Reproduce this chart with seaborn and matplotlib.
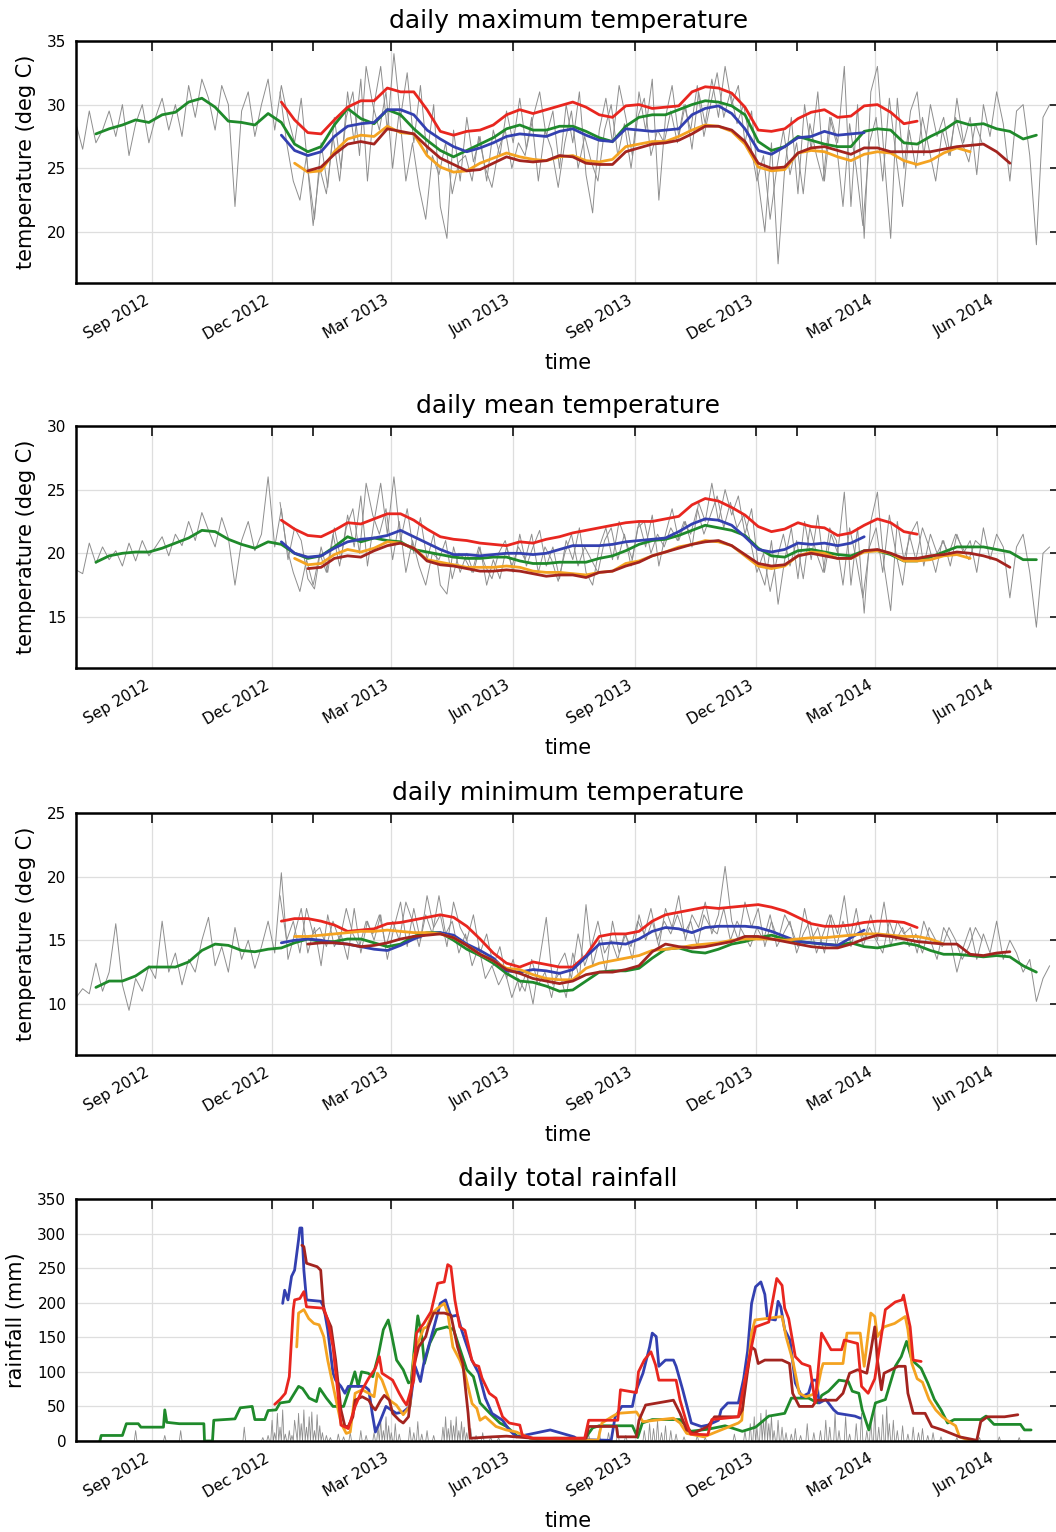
import numpy as np
import pandas as pd
import matplotlib
matplotlib.use("Agg")
import matplotlib.pyplot as plt
import matplotlib.dates as mdates
from matplotlib.ticker import MultipleLocator
import seaborn as sns

# ---------------------------------------------------------------- data
# all x-values are day offsets from BASE_DATE
BASE_DATE = "2012-09-01"
X_START, X_END = "2012-07-06", "2014-07-19"

SMOOTH_STEP = 10      # smoothed (running-mean) curves sampled every 10 days
GRAY_STEP = 5         # daily station traces sampled every 5 days
GRAY_A_START = -57
GRAY_B_START = 97

# ---- daily maximum temperature
TMAX_GRAY_A = [28.5, 26.5, 29.5, 27, 28, 29.5, 27.5, 30, 26, 28.5, 30, 27,
               29, 30.5, 28, 30, 27.5, 31.5, 29, 32, 30.5, 28, 31.5, 30,
               22, 29.5, 31, 27.5, 30, 32, 28, 31.5, 29, 27, 30.5, 25,
               21, 27, 23.5, 29, 25, 31, 27, 32, 24, 30, 33, 28,
               34, 29, 32.5, 27, 31.5, 26, 30, 22, 19.5, 28, 24, 29,
               25.5, 27.5, 24, 28, 26, 29.5, 27, 30.5, 26.5, 29, 31, 27.5,
               29.5, 25, 30, 27, 31, 24.5, 21.5, 28, 30.5, 27, 31.5, 29,
               26, 31, 28, 32, 22.5, 29, 31.5, 27.5, 30, 26.5, 31, 28.5,
               32, 29, 33, 30, 31.5, 27, 29.5, 24, 20, 27, 17.5, 25,
               29, 23, 30, 26.5, 31, 24, 29, 27, 33, 22, 30, 19.5,
               31, 33, 26, 19.5, 30.5, 25, 29.5, 31, 26, 30, 27.5, 29,
               26, 30.5, 27, 29, 24.5, 30, 27.5, 31, 28.5, 24, 29.5, 30, 26, 19, 29, 30]
TMAX_GRAY_B = [31, 27, 24, 22.5, 26, 20.5, 25, 23, 27.5, 24, 29, 31,
               26, 33, 30, 28, 31, 25, 29.5, 24, 27, 23.5, 21, 26,
               24.5, 27, 23, 25.5, 26, 24, 27.5, 25, 23.5, 26.5, 28, 25,
               27, 26, 29, 24, 28, 26.5, 23.5, 27, 29.5, 25, 27.5, 25.5,
               24, 28, 30, 26, 28.5, 25, 29, 30.5, 26, 28, 27, 29.5,
               27, 30, 28, 31.5, 27.5, 30, 32.5, 29, 31, 28.5, 30, 27,
               24, 26, 21, 25, 28, 24.5, 27, 23, 28.5, 26, 24, 29,
               27, 22, 28.5, 25, 20.5, 27, 29, 24, 30.5, 26, 22, 28,
               25, 29, 26.5, 24, 28, 26, 29, 27, 25.5, 28.5, 27]
TMAX_GREEN_START = -42
TMAX_GREEN = [27.7, 28.1, 28.4, 28.8, 28.6, 29.2, 29.4, 30.2, 30.5, 29.8, 28.7, 28.6,
              28.4, 29.3, 28.6, 26.9, 26.3, 26.7, 28.4, 29.7, 28.9, 28.5, 29.6, 29.2,
              28.1, 27.2, 26.4, 25.9, 26.4, 26.9, 27.4, 28.1, 28.4,
              28.0, 28.0, 28.3, 28.3, 27.9, 27.4, 27.1, 28.3, 29.0, 29.2, 29.2, 29.6,
              30.0, 30.3, 30.2, 29.9, 29.2, 27.1, 26.4, 26.7, 27.5, 27.2, 26.9, 26.7,
              26.7, 27.9, 28.1, 28.0, 27.0, 26.9, 27.5, 28.0, 28.7, 28.4, 28.5, 28.1,
              27.9, 27.3, 27.6]
TMAX_RED_START = 98
TMAX_RED = [30.2, 28.8, 27.8, 27.7, 28.8, 29.8, 30.3, 30.3, 31.3, 31.0, 31.0, 29.6,
            27.9, 27.6, 27.9, 28.0, 28.4, 29.2, 29.6, 29.3, 29.6, 29.9, 30.2, 29.8,
            29.2, 29.0, 29.9, 30.0, 29.7, 29.8, 29.9, 31.0, 31.4, 31.3, 30.9, 29.8,
            28.0, 27.9, 28.1, 28.9, 29.4, 29.6, 29.0, 29.1, 29.9, 30.0, 29.4, 28.5, 28.7]
TMAX_BLUE_START = 98
TMAX_BLUE = [27.6, 26.4, 26.0, 26.3, 27.5, 28.3, 28.5, 28.6, 29.6, 29.6, 29.2, 28.0,
             27.3, 26.7, 26.3, 26.6, 27.0, 27.5, 27.7, 27.6, 27.5, 27.9, 28.1, 27.6,
             27.2, 27.1, 28.1, 28.0, 27.9, 28.0, 28.1, 29.2, 29.7, 29.9, 29.3, 28.1,
             26.4, 26.1, 26.7, 27.4, 27.5, 27.9, 27.6, 27.7, 27.8]
TMAX_ORANGE_START = 108
TMAX_ORANGE = [25.4, 24.7, 24.8, 26.3, 27.3, 27.6, 27.5, 28.3, 27.8, 27.7, 26.0, 25.1,
               24.7, 24.8, 25.4, 25.8, 26.2, 25.9, 25.7, 25.6, 25.9, 26.0, 25.6, 25.5,
               25.7, 26.7, 26.9, 27.1, 27.1, 27.5, 28.0, 28.4, 28.3, 27.9, 26.9, 25.1,
               24.8, 24.9, 26.2, 26.4, 26.3, 25.9, 25.6, 26.1, 26.3, 26.2, 25.6, 25.3,
               25.6, 26.2, 26.6, 26.3]
TMAX_DARKRED_START = 118
TMAX_DARKRED = [24.8, 25.1, 26.1, 26.9, 27.1, 26.9, 28.1, 27.9, 27.7, 26.7, 25.8, 25.3,
                24.8, 24.9, 25.4, 25.9, 25.6, 25.5, 25.6, 26.0, 25.9, 25.4, 25.3, 25.3,
                26.3, 26.6, 26.9, 27.0, 27.2, 27.7, 28.3, 28.3, 28.0, 27.1, 25.4, 25.0,
                25.1, 26.2, 26.6, 26.7, 26.4, 26.1, 26.6, 26.6, 26.3, 26.3, 26.3, 26.3,
                26.5, 26.7, 26.8, 26.9, 26.3, 25.4]

# ---- daily mean temperature
TMEAN_GRAY_A = [18.7, 18.4, 20.8, 19.2, 20.5, 19.5, 20.2, 19, 20.8, 19.4, 21, 19.8,
                20.5, 21.3, 19.8, 21.5, 20.6, 22.5, 21, 23.2, 21.8, 20.5, 22.8, 21.2,
                17.5, 21, 22.5, 20.2, 21.5, 26, 20.5, 23.5, 19.5, 22, 21, 18,
                17.2, 20.5, 18.5, 22, 19.5, 23, 20.5, 24.5, 19, 22.5, 25.5, 21.5,
                26, 21, 23.5, 20, 22.8, 19.5, 21.5, 17.5, 16.8, 20.5, 18.5, 20,
                18.5, 20.5, 17.5, 19.5, 18, 20.5, 18.5, 21.5, 19, 20.5, 21.8, 19,
                20.5, 18, 21, 19.5, 22, 18.5, 17.5, 20.5, 22, 19.5, 22.5, 21,
                19.5, 22.5, 20.5, 23, 19, 21.5, 23.5, 21, 22.5, 20.5, 24, 22.5,
                25.5, 22.5, 25, 23, 24.5, 21.5, 23.5, 19, 17.5, 21, 16, 19.5,
                22, 18, 22.5, 19.5, 23, 18.5, 21.5, 20, 24.8, 17.5, 22, 15.3,
                22.5, 24.8, 19, 15.5, 22.5, 19.5, 21.5, 22.5, 19, 21.5, 20, 21,
                19, 21.5, 20, 21, 18.5, 22, 19.5, 21.5, 20.5, 16.5, 20.5, 21.5, 18.5, 14.2, 20, 20.5]
TMEAN_GRAY_B = [24, 20.5, 18.5, 17, 19.5, 17.5, 20, 18.5, 21.5, 19, 22, 23.5,
                20, 25.5, 23, 21.5, 23.5, 19.5, 22.5, 18.5, 21, 19, 17.5, 20,
                19.5, 21, 18, 20, 19.5, 18.5, 20.5, 19, 18, 20, 21, 19,
                20.5, 19.5, 21.5, 18.5, 20.5, 19.5, 17.8, 20, 21.5, 19, 20.5, 19.5,
                18.5, 21, 22, 19.5, 21.5, 19, 22, 22.5, 20, 21.5, 20.5, 22,
                21, 22.5, 21.5, 23.5, 21.5, 23, 24.5, 22, 24, 22, 23, 21,
                18.5, 20, 17, 19.5, 21.5, 19, 21, 18, 22, 20, 18.5, 22,
                21, 17.5, 22, 19.5, 16.5, 20.5, 22, 18.5, 23, 20, 17.5, 21.5,
                19.5, 22, 20.5, 18.5, 21, 20, 21.5, 20.5, 19.5, 21, 20.5]
TMEAN_GREEN_START = -42
TMEAN_GREEN = [19.3, 19.8, 20.0, 20.1, 20.1, 20.4, 20.8, 21.2, 21.8, 21.7, 21.1, 20.7,
               20.4, 20.9, 20.7, 20.0, 19.6, 19.8, 20.5, 21.3, 20.9, 21.2, 21.0, 20.9,
               20.3, 20.1, 19.9, 19.7, 19.6, 19.6, 19.7, 19.7, 19.4,
               19.2, 19.2, 19.3, 19.3, 19.3, 19.6, 19.8, 20.2, 20.7, 21.0, 21.1, 21.4,
               21.8, 22.2, 22.0, 21.8, 21.4, 20.4, 19.8, 19.7, 20.2, 20.3, 20.1, 19.9,
               19.8, 20.2, 20.2, 19.9, 19.4, 19.4, 19.7, 20.1, 20.5, 20.5, 20.5, 20.3,
               20.1, 19.5, 19.5]
TMEAN_RED_START = 98
TMEAN_RED = [22.6, 21.9, 21.4, 21.3, 21.8, 22.4, 22.3, 22.7, 23.1, 23.1, 22.6, 21.9,
             21.3, 21.1, 21.0, 20.8, 20.7, 20.6, 20.9,
             20.8, 21.1, 21.3, 21.6, 21.8, 22.0, 22.2, 22.4, 22.5, 22.5, 22.7, 22.9,
             23.8, 24.3, 24.1, 23.6, 23.0, 22.1, 21.7, 21.9, 22.4, 22.1, 22.0, 21.4,
             21.6, 22.2, 22.7, 22.4, 21.7, 21.5]
TMEAN_BLUE_START = 98
TMEAN_BLUE = [20.9, 20.0, 19.7, 19.8, 20.4, 20.9, 21.1, 21.2, 21.4, 21.8, 21.3, 20.8,
              20.3, 19.9, 19.9, 19.8, 19.9, 20.0, 20.0,
              19.9, 20.0, 20.3, 20.6, 20.6, 20.6, 20.7, 20.9, 21.0, 21.1, 21.2, 21.7,
              22.3, 22.7, 22.6, 22.2, 21.3, 20.3, 20.1, 20.3, 20.8, 20.7, 20.8, 20.6,
              20.8, 21.3]
TMEAN_ORANGE_START = 108
TMEAN_ORANGE = [19.6, 19.1, 19.2, 19.9, 20.3, 20.1, 20.4, 20.9, 20.8, 20.4, 19.5, 19.3,
                19.1, 18.9, 18.9, 18.9, 19.0, 18.9,
                18.6, 18.5, 18.5, 18.4, 18.3, 18.5, 18.6, 19.2, 19.4, 19.8, 20.1, 20.5,
                20.7, 21.0, 20.9, 20.6, 19.8, 19.0, 18.8, 19.0, 19.8, 20.1, 20.0, 19.6,
                19.6, 20.1, 20.2, 20.0, 19.4, 19.4, 19.5, 19.8, 19.9, 19.6]
TMEAN_DARKRED_START = 118
TMEAN_DARKRED = [18.8, 18.9, 19.6, 19.8, 19.7, 20.2, 20.6, 20.8, 20.4, 19.4, 19.1, 19.0,
                 18.8, 18.6, 18.6, 18.7, 18.6,
                 18.4, 18.2, 18.3, 18.3, 18.1, 18.5, 18.6, 19.0, 19.3, 19.8, 20.1, 20.4,
                 20.7, 20.9, 21.0, 20.6, 19.9, 19.2, 19.0, 19.1, 19.8, 20.0, 19.8, 19.6,
                 19.6, 20.2, 20.3, 20.0, 19.6, 19.6, 19.8, 19.9, 20.1, 20.0, 19.8, 19.5, 18.9]

# ---- daily minimum temperature
TMIN_GRAY_A = [10.5, 11.2, 10.8, 13.2, 11, 12.5, 16.3, 11.5, 9.5, 12, 11, 13,
               12, 16.5, 12.5, 14, 11.5, 13.5, 12.5, 15, 16.8, 13, 14.5, 12.5,
               16, 13.5, 15, 12.8, 14.5, 16.5, 14, 20.3, 13.5, 15.5, 17.5, 14,
               16, 13, 17, 14.5, 15.5, 13.5, 17.5, 14, 16.5, 15, 17, 13.5,
               16, 18, 14.5, 17.5, 15, 18.5, 16, 17, 14.5, 18, 16, 15,
               17, 14, 15.5, 13, 14.5, 12, 13.5, 11, 12.5, 10, 13.5, 16.8,
               11.5, 12.5, 10.5, 14, 12, 17.8, 13, 15, 12.5, 16.5, 14, 15.5,
               13.5, 17, 15, 16.5, 14.5, 17.5, 16, 18.5, 15, 17, 16, 18,
               15.5, 17, 20.8, 16.5, 15, 18, 16, 17.5, 14.5, 16.5, 15, 17,
               16, 14.5, 17.5, 15, 16, 14, 17, 15.5, 18.5, 14.5, 16.5, 15,
               17, 15, 18, 14.5, 16.5, 15.5, 16, 14, 16.5, 15, 13.5, 16,
               15, 12.5, 14.5, 16, 13.5, 15.5, 14, 16.5, 13.5, 15, 14, 12.5, 13.5, 10.2, 12, 13]
TMIN_GRAY_B = [18.5, 15, 16.5, 14, 17.5, 15.5, 16, 14.5, 16.5, 15, 17.5, 15.5,
               14.5, 16.5, 15.5, 17, 14.5, 16.5, 15, 18, 16.5, 14.5, 17, 15.5,
               18.5, 15.5, 16.5, 14, 15.5, 13, 14.5, 12, 13, 11.5, 12.5, 10.5,
               12, 11, 13.5, 11.5, 12.5, 10.5, 13, 14, 12, 15.5, 13, 14.5,
               16.5, 14, 15, 13.5, 15.5, 14.5, 16.5, 15.5, 17.5, 15, 16.5, 15.5,
               17, 15.5, 16.5, 14.5, 17, 16, 15.5, 17.5, 15, 16.5, 15.5, 14.5,
               16, 15, 17, 14.5, 15.5, 16.5, 14, 15.5, 16.5, 14, 15.5, 17,
               14.5, 16.5, 15, 17.5, 14.5, 16, 15, 14, 16.5, 15, 16, 14.5,
               15.5, 14, 16, 15, 14.5, 16, 15, 13.5, 14.5, 16, 15]
TMIN_GREEN_START = -42
TMIN_GREEN = [11.3, 11.8, 11.8, 12.2, 12.9, 12.9, 12.9, 13.3, 14.2, 14.7, 14.6, 14.2,
              14.1, 14.3, 14.4, 14.8, 15.1, 14.9, 14.9, 15.1, 15.1, 14.8, 14.5, 14.7,
              15.3, 15.6, 15.6, 15.0, 14.3, 13.8, 13.2, 12.4, 11.8,
              11.7, 11.4, 11.0, 11.1, 11.8, 12.5, 12.6, 12.6, 12.8, 13.6, 14.3, 14.4,
              14.1, 14.0, 14.3, 14.7, 14.9, 15.2, 15.4, 15.1, 14.9, 14.8, 14.7, 14.6,
              14.8, 14.5, 14.4, 14.6, 14.8, 14.6, 14.2, 13.9, 13.9, 13.8, 13.7, 13.8,
              13.7, 13.0, 12.5]
TMIN_RED_START = 98
TMIN_RED = [16.5, 16.7, 16.7, 16.5, 16.2, 15.7, 15.8, 15.9, 16.3, 16.4, 16.6, 16.8,
            17.0, 16.8, 16.1, 15.1, 14.0, 13.2, 12.9,
            13.3, 13.1, 12.9, 12.9, 13.8, 15.3, 15.5, 15.5, 15.7, 16.5, 17.0, 17.2,
            17.4, 17.6, 17.5, 17.6, 17.7, 17.8, 17.6, 17.3, 16.8, 16.3, 16.1, 16.1,
            16.2, 16.4, 16.5, 16.5, 16.4, 16.0]
TMIN_BLUE_START = 98
TMIN_BLUE = [14.8, 15.0, 15.1, 15.0, 14.8, 14.7, 14.5, 14.3, 14.2, 14.6, 15.1, 15.5,
             15.6, 15.4, 14.7, 14.2, 13.6, 12.6, 12.5,
             12.7, 12.6, 12.4, 12.7, 13.7, 14.7, 14.8, 14.7, 15.1, 15.7, 16.0, 15.9,
             15.6, 16.0, 16.1, 16.1, 16.1, 16.0, 15.7, 15.3, 14.9, 14.8, 14.7, 14.6,
             15.2, 15.8]
TMIN_ORANGE_START = 108
TMIN_ORANGE = [15.3, 15.3, 15.4, 15.5, 15.6, 15.7, 15.7, 15.8, 15.7, 15.6, 15.6, 15.5,
               15.2, 14.6, 13.9, 13.4, 12.8, 12.7,
               12.3, 12.0, 11.9, 11.9, 12.8, 13.2, 13.4, 13.6, 13.8, 14.2, 14.3, 14.4,
               14.6, 14.7, 14.8, 15.0, 15.1, 15.1, 15.1, 15.0, 15.1, 15.2, 15.2, 15.3,
               15.4, 15.5, 15.5, 15.4, 15.3, 15.3, 15.1, 14.7]
TMIN_DARKRED_START = 118
TMIN_DARKRED = [14.7, 14.8, 14.8, 14.7, 14.5, 14.6, 14.8, 15.1, 15.3, 15.4, 15.5, 15.2,
                14.6, 13.9, 13.4, 12.7, 12.4,
                12.0, 11.8, 11.6, 11.8, 12.3, 12.5, 12.5, 12.7, 13.0, 14.1, 14.7, 14.5,
                14.4, 14.5, 14.7, 14.9, 15.3, 15.3, 15.1, 14.9, 14.7, 14.5, 14.4, 14.4,
                14.7, 15.1, 15.4, 15.3, 15.1, 14.9, 14.8, 14.7, 14.7, 13.9, 13.8, 14.0, 14.1]

# ---- daily total rainfall (30-day running totals per station, day offset / mm)
RAIN_GREEN_DAY = [-39, -38, -22, -19, -10, -8, 9, 10, 11.5, 21, 39.5, 40, 46, 47, 63, 67, 76, 78,
                  85.5, 88, 94, 97, 104, 111, 114, 119, 124.5, 127, 132, 137, 145, 151, 153.5,
                  156, 158.5, 163.5, 167, 171, 175, 178.7, 181, 185, 190, 194, 196, 199, 201,
                  204, 206, 210, 215, 223, 228, 233, 238, 243, 248, 255.5, 263, 268, 276, 281,
                  286, 291, 305, 327, 333, 338, 363, 367, 370.5, 378, 399, 404, 407, 420, 433,
                  446, 456, 466, 478, 483, 496, 503, 506, 511, 519, 526, 529, 534, 536.5, 541.5,
                  546.5, 554, 561.5, 566, 570, 574, 581, 586, 591, 596, 601, 606, 626, 630, 636,
                  656, 659, 664]
RAIN_GREEN_MM = [0, 8, 8, 25, 25, 20, 20, 45, 27, 25, 25, 0, 0, 30, 32, 48, 50, 31,
                 31, 44, 45, 55, 57, 79, 76, 62, 57, 76, 62, 50, 50, 84, 100,
                 79, 100, 98, 93, 122, 161, 175, 156, 117, 103, 84, 86, 146, 181,
                 151, 112, 141, 161, 165, 161, 132, 103, 93, 55, 40, 26, 21, 7, 8,
                 4, 3, 4, 3, 19, 22, 22, 5, 26, 31, 31, 21, 14, 17, 22,
                 14, 20, 36, 40, 62, 62, 55, 66, 72, 88, 86, 72, 69, 45, 16,
                 55, 60, 108, 122, 144, 117, 105, 84, 60, 45, 26, 31, 31, 36, 24,
                 24, 16, 16]
RAIN_RED_DAY = [93, 97, 101, 104, 107, 108, 112, 115, 117, 130, 133, 137, 140.7, 143, 148.5,
                153.7, 159, 164, 169, 172, 174, 182, 187, 190, 192.5, 198, 200, 205.5, 211,
                216, 221, 223.6, 226, 229, 232.7, 236.6, 241.8, 244, 247, 249.5, 255, 260,
                265, 270, 278, 280, 288, 327, 330, 352, 354, 366, 367.6, 372, 377, 380.5,
                383, 396, 399, 404, 407, 420, 423, 443, 446, 453, 456, 466, 472, 476, 478,
                481, 486, 491, 497, 501, 505.8, 513, 521, 523, 533, 536, 541, 546, 554,
                561.5, 566.5, 567.7, 570, 572.7, 575, 581]
RAIN_RED_MM = [53, 60, 69, 93, 190, 204, 206, 216, 194, 192, 175, 136, 69, 23, 18,
               50, 74, 91, 105, 122, 98, 88, 69, 59, 52, 88, 156, 170, 187,
               228, 230, 255, 252, 204, 165, 160, 117, 110, 108, 91, 69, 62,
               35, 26, 23, 8, 4, 4, 30, 30, 74, 70, 100, 117, 129, 110,
               88, 88, 59, 26, 10, 9, 31, 35, 69, 137, 165, 172, 235, 225, 192,
               177, 122, 112, 108, 55, 156, 132, 132, 146, 141, 79, 69, 90, 190,
               201, 204, 211, 189, 165, 117, 115]
RAIN_BLUE_DAY = [99, 100.5, 103, 105.7, 108, 111, 112, 113.5, 115, 117, 127.7, 130, 133, 137,
                 139, 143, 146, 148.5, 161, 164, 166.6, 169, 172, 177, 184.8, 190, 195, 199,
                 203, 205.5, 209, 213, 218, 222, 226, 231, 234, 236.6, 241.8, 247, 252, 257,
                 265, 270, 275.5, 286, 301, 319, 322, 347, 350, 355, 363, 365, 371, 376, 378,
                 381, 383, 388, 394, 396, 401, 407.5, 415, 420, 428, 430, 435, 443, 447, 450,
                 453, 456, 460, 463, 465, 471, 473, 475, 478, 482, 486, 491, 496, 499, 502,
                 504, 509, 515, 518, 531, 535]
RAIN_BLUE_MM = [199, 218, 204, 238, 247, 291, 308, 308, 247, 204, 202, 194, 161, 98,
                88, 79, 69, 79, 79, 74, 40, 13, 26, 50, 40, 42, 50, 108,
                86, 112, 136, 163, 199, 204, 180, 182, 161, 146, 117, 98, 62, 40,
                30, 16, 6, 10, 16, 6, 2, 1, 35, 50, 50, 69, 98, 136, 156,
                151, 108, 117, 117, 108, 74, 26, 21, 23, 30, 45, 55, 55, 90, 130,
                199, 223, 230, 212, 177, 175, 202, 194, 161, 146, 84, 64, 69, 88, 88,
                55, 60, 45, 40, 36, 33]
RAIN_ORANGE_DAY = [109.6, 111, 115, 118.7, 122.6, 126.5, 130, 133, 139, 143, 147, 150, 153.7,
                   159, 164, 168, 170.5, 174, 179.6, 184.8, 190, 195, 198, 201.6, 205.5, 208,
                   212, 216, 221, 223.6, 227.5, 232.7, 236.6, 242, 245.6, 248, 252, 260, 267.7,
                   275.5, 286, 337, 340, 347.5, 352, 366, 371, 394, 399, 404, 417, 430, 443,
                   445.6, 448, 450.5, 453, 455.6, 476, 479, 484, 489, 494, 502, 505.6, 507,
                   522, 525, 535, 538, 543, 546, 548, 553, 561, 569, 571, 574, 578, 582, 587,
                   592, 597, 602, 607, 610, 617, 623]
RAIN_ORANGE_MM = [136, 185, 190, 177, 170, 168, 151, 117, 62, 26, 11, 13, 69,
                  74, 69, 64, 98, 88, 59, 52, 38, 50, 122, 144, 163, 165,
                  185, 192, 199, 185, 136, 117, 98, 54, 47, 30, 35, 21, 16,
                  13, 4, 1, 26, 35, 40, 42, 28, 33, 26, 11, 6, 16, 26,
                  30, 88, 108, 156, 175, 180, 151, 117, 69, 64, 69, 103, 112,
                  112, 156, 156, 108, 185, 180, 151, 165, 170, 180, 161, 112, 90, 85, 60,
                  45, 35, 28, 22, 6, 1, 0]
RAIN_DARKRED_DAY = [113.5, 115, 117, 125, 127.7, 130, 135.5, 139, 143, 146, 148.5, 152, 153.7,
                    159, 164, 166.6, 169, 173, 175.7, 179.6, 182, 187, 190, 194, 198, 201.6,
                    207, 209, 213, 221, 226, 231, 235, 239, 240.5, 257, 268, 288, 328, 330,
                    351, 352, 366, 368, 373, 394, 399, 404, 409, 420, 425, 443, 446, 450.5,
                    453, 455.6, 458, 463, 476, 481.6, 484, 489, 499, 502, 517, 522, 527, 533,
                    540, 543, 546, 548, 551, 553, 563.6, 569, 571, 575, 584, 589, 597, 610,
                    623, 626, 631, 644, 654]
RAIN_DARKRED_MM = [283, 281, 257, 252, 247, 189, 165, 117, 45, 21, 21, 35, 59,
                   64, 59, 50, 45, 59, 66, 59, 40, 30, 26, 35, 108, 136,
                   151, 165, 185, 185, 182, 136, 112, 40, 4, 6, 7, 4, 4, 21,
                   21, 6, 6, 30, 52, 59, 40, 16, 11, 21, 35, 35, 45, 108,
                   136, 132, 112, 117, 117, 112, 69, 50, 50, 59, 59, 69, 98, 103,
                   98, 130, 165, 117, 74, 98, 108, 108, 69, 40, 40, 21, 16, 6,
                   1, 28, 35, 35, 38]
# daily station rainfall: rainy days (day offset) and amount (mm); all other days are dry
RAIN_GRAY_DAY = [-12, 10, 22, 70, 84, 88,
                 91, 93, 95, 97, 99, 101, 104, 106, 108, 109, 111, 113, 115, 117, 119, 121, 123,
                 125, 127, 129, 132, 135,
                 141, 145, 150, 158, 162,
                 168, 171, 173, 175, 177, 179, 181, 184, 187,
                 195, 198, 201, 204, 208, 213,
                 220, 222, 224, 226, 228, 230, 232, 234, 236, 238, 241, 245, 250, 256, 262,
                 330, 338, 345, 352, 358,
                 372, 376, 379, 382, 385, 388, 392, 396, 402, 412, 418,
                 440, 448, 452, 455, 457, 460, 462, 464, 466, 468, 470, 473, 476, 479, 483, 486,
                 490, 495, 500,
                 505, 509, 512, 516, 519, 524, 527, 532, 536, 540,
                 543, 546, 549, 552, 555, 557, 560, 563, 567, 571,
                 575, 579, 582, 586, 590, 596,
                 608, 615, 625, 640, 655]
RAIN_GRAY_MM = [15, 8, 15, 20, 5, 8,
                30, 12, 40, 20, 45, 10, 15, 8, 30, 15, 40, 25, 45, 20, 35, 42, 15,
                38, 22, 12, 8, 5,
                10, 6, 12, 15, 8,
                12, 20, 30, 15, 35, 22, 12, 25, 10,
                20, 12, 28, 10, 15, 8,
                20, 35, 18, 30, 22, 35, 15, 28, 20, 12, 18, 8, 12, 6, 5,
                10, 15, 12, 18, 8,
                15, 25, 18, 30, 12, 22, 15, 10, 6, 8, 5,
                10, 15, 25, 35, 20, 40, 30, 45, 25, 35, 15, 30, 20, 12, 10, 18,
                8, 25, 12,
                15, 30, 20, 40, 15, 35, 10, 25, 40, 15,
                30, 45, 20, 38, 50, 25, 30, 15, 22, 10,
                20, 12, 18, 8, 12, 6,
                5, 4, 5, 6, 5]

TITLES = ["daily maximum temperature", "daily mean temperature",
          "daily minimum temperature", "daily total rainfall"]
YLABELS = ["temperature (deg C)", "temperature (deg C)", "temperature (deg C)", "rainfall (mm)"]

# ---------------------------------------------------------------- style
RED, BLUE, GREEN, ORANGE, DARKRED, GRAY = "#e8261f", "#3340b0", "#1f8a2b", "#f4a321", "#a3241f", "#8e8e8e"

sns.set_style("white")
plt.rcParams["font.family"] = ["DejaVu Sans"]
plt.rcParams["text.color"] = "black"
plt.rcParams["axes.labelcolor"] = "black"
plt.rcParams["axes.titlecolor"] = "black"

fig = plt.figure(figsize=(10.56, 15.32), dpi=100)
AX_LEFT, AX_WIDTH, AX_HEIGHT = 0.072, 0.932, 0.158
AX_BOTTOMS = [0.8153, 0.5640, 0.3114, 0.0594]
axes = [fig.add_axes([AX_LEFT, b, AX_WIDTH, AX_HEIGHT]) for b in AX_BOTTOMS]

base = pd.Timestamp(BASE_DATE)


def to_dates(days):
    return base + pd.to_timedelta(np.asarray(days, dtype=float), unit="D")


def line(ax, days, vals, color, lw):
    n = min(len(days), len(vals))
    sns.lineplot(x=to_dates(days[:n]), y=np.asarray(vals[:n], float), ax=ax, color=color,
                 linewidth=lw, estimator=None, sort=False, legend=False)


def grid_line(ax, start, vals, step, color, lw):
    days = start + step * np.arange(len(vals))
    line(ax, days, vals, color, lw)


temp_panels = [
    (TMAX_GRAY_A, TMAX_GRAY_B,
     [(TMAX_GREEN_START, TMAX_GREEN, GREEN), (TMAX_RED_START, TMAX_RED, RED),
      (TMAX_BLUE_START, TMAX_BLUE, BLUE), (TMAX_ORANGE_START, TMAX_ORANGE, ORANGE),
      (TMAX_DARKRED_START, TMAX_DARKRED, DARKRED)]),
    (TMEAN_GRAY_A, TMEAN_GRAY_B,
     [(TMEAN_GREEN_START, TMEAN_GREEN, GREEN), (TMEAN_RED_START, TMEAN_RED, RED),
      (TMEAN_BLUE_START, TMEAN_BLUE, BLUE), (TMEAN_ORANGE_START, TMEAN_ORANGE, ORANGE),
      (TMEAN_DARKRED_START, TMEAN_DARKRED, DARKRED)]),
    (TMIN_GRAY_A, TMIN_GRAY_B,
     [(TMIN_GREEN_START, TMIN_GREEN, GREEN), (TMIN_RED_START, TMIN_RED, RED),
      (TMIN_BLUE_START, TMIN_BLUE, BLUE), (TMIN_ORANGE_START, TMIN_ORANGE, ORANGE),
      (TMIN_DARKRED_START, TMIN_DARKRED, DARKRED)]),
]

for ax, (ga, gb, series) in zip(axes[:3], temp_panels):
    grid_line(ax, GRAY_A_START, ga, GRAY_STEP, GRAY, 0.7)
    grid_line(ax, GRAY_B_START, gb, GRAY_STEP, GRAY, 0.7)
    for start, vals, col in series:
        grid_line(ax, start, vals, SMOOTH_STEP, col, 2.0)

# rainfall panel
ax = axes[3]
rain_days = np.arange(-57, 686)
rain_daily = pd.Series(0.0, index=rain_days)
rain_daily.loc[RAIN_GRAY_DAY] = RAIN_GRAY_MM
line(ax, rain_daily.index.values, rain_daily.values, GRAY, 0.6)
for d, v, c in [(RAIN_GREEN_DAY, RAIN_GREEN_MM, GREEN), (RAIN_BLUE_DAY, RAIN_BLUE_MM, BLUE),
                (RAIN_ORANGE_DAY, RAIN_ORANGE_MM, ORANGE), (RAIN_DARKRED_DAY, RAIN_DARKRED_MM, DARKRED),
                (RAIN_RED_DAY, RAIN_RED_MM, RED)]:
    line(ax, d, v, c, 2.0)

YLIMS = [(16, 35), (11, 30), (6, 25), (0, 350)]
YSTEPS = [5, 5, 5, 50]

for ax, title, ylab, ylim, ystep in zip(axes, TITLES, YLABELS, YLIMS, YSTEPS):
    ax.set_xlim(pd.Timestamp(X_START), pd.Timestamp(X_END))
    ax.set_ylim(*ylim)
    ax.xaxis.set_major_locator(mdates.MonthLocator(bymonth=[3, 6, 9, 12]))
    ax.xaxis.set_minor_locator(mdates.MonthLocator(bymonth=[1]))
    ax.xaxis.set_major_formatter(mdates.DateFormatter("%b %Y"))
    ax.yaxis.set_major_locator(MultipleLocator(ystep))
    ax.set_axisbelow(True)
    ax.grid(True, which="major", color="#dedede", linewidth=0.9)
    ax.grid(False, which="minor")
    ax.tick_params(which="both", direction="in", top=True, right=True, length=7,
                   width=1.3, color="#222222")
    ax.tick_params(axis="both", labelsize=11, labelcolor="black")
    ax.tick_params(axis="y", pad=7)
    ax.tick_params(axis="x", pad=7)
    for lab in ax.get_xticklabels():
        lab.set_rotation(30)
        lab.set_ha("right")
    for sp in ax.spines.values():
        sp.set_visible(True)
        sp.set_linewidth(1.8)
        sp.set_color("black")
    ax.set_title(title, fontsize=18, pad=9, color="black")
    ax.set_xlabel("time", fontsize=15, labelpad=8, color="black")
    ax.set_ylabel(ylab, fontsize=15, labelpad=8, color="black")

fig.savefig("out.png", dpi=100, facecolor="white")
